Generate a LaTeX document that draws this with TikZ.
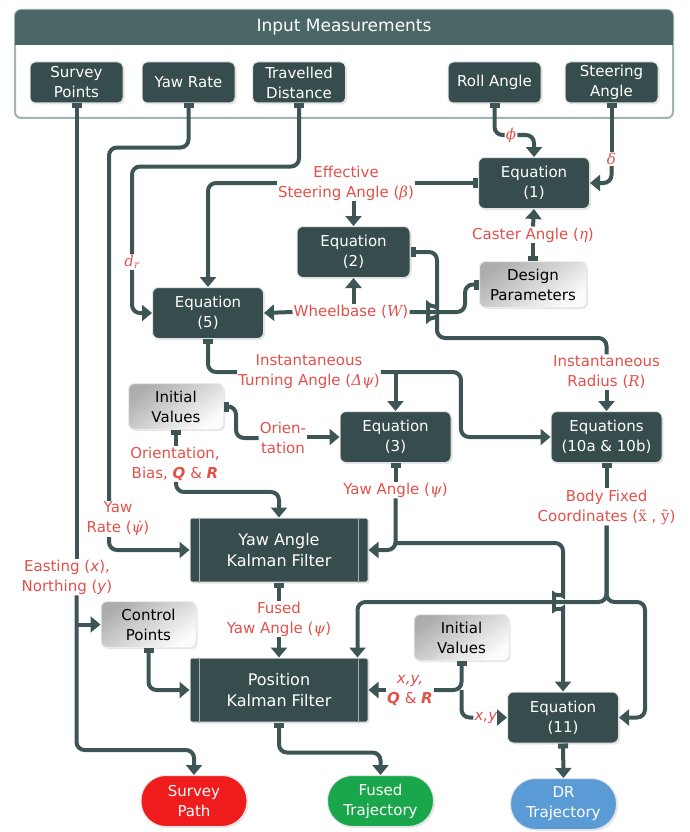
\documentclass[tikz,border=0pt]{standalone}
\usepackage{fontspec}
\setmainfont{DejaVu Sans}
\newfontfamily\serifsym{DejaVu Serif}
\newcommand{\symb}[1]{{\serifsym\itshape #1}}
\usetikzlibrary{arrows.meta,shadows}
\definecolor{boxdark}{HTML}{374C4C}
\definecolor{wirecol}{HTML}{3D5555}
\definecolor{headbar}{HTML}{4B6666}
\definecolor{framegray}{HTML}{A3B2B2}
\definecolor{labred}{HTML}{E2504A}
\definecolor{pathred}{HTML}{EE1C1C}
\definecolor{trajgreen}{HTML}{1AA64B}
\definecolor{trajblue}{HTML}{5B9BD5}

\begin{document}
\begin{tikzpicture}[
    x=1pt, y=-1pt,
    every node/.style={font=\fontsize{15}{20}\selectfont, align=center},
    >={Triangle[length=10pt,width=16pt]},
    sq/.tip={Square[length=5pt,width=10pt]},
    darkbox/.style={
      rectangle, rounded corners=6pt,
      fill=boxdark, text=white,
      draw=white!85!boxdark, line width=1pt,
      drop shadow={opacity=0.2, shadow xshift=1.5pt, shadow yshift=-1.5pt},
      minimum width=111pt, minimum height=51pt, inner sep=2pt
    },
    inbox/.style={darkbox, rounded corners=5pt, minimum width=93pt, minimum height=41pt},
    kfbox/.style={
      darkbox, rounded corners=2pt,
      font=\fontsize{16}{21}\selectfont,
      minimum width=178pt, minimum height=64pt
    },
    graybox/.style={
      rectangle, rounded corners=6pt,
      top color=black!32, bottom color=black!1, shading angle=35,
      draw=white!85!gray, line width=1pt,
      drop shadow={opacity=0.2, shadow xshift=1.5pt, shadow yshift=-1.5pt},
      minimum width=95pt, minimum height=46pt, inner sep=2pt
    },
    endbox/.style={
      rectangle, rounded corners=25pt, text=white,
      draw=white!80!gray, line width=1pt,
      drop shadow={opacity=0.2, shadow xshift=1.5pt, shadow yshift=-1.5pt},
      minimum width=106pt, minimum height=51pt
    },
    lbl/.style={text=labred, inner sep=1pt},
    flow/.style={draw=wirecol, line width=4pt, rounded corners=8pt}
  ]
  \useasboundingbox (0,0) rectangle (689,832);

  % input frame
  \draw[
    line width=2pt,
    color=framegray,
    fill=white,
    rounded corners=6pt
  ] (15,10) rectangle (673,118);
  \fill[headbar, rounded corners=6pt] (15,10) rectangle (673,45);
  \fill[headbar] (15,30) rectangle (673,45);
  \node[text=white, font=\fontsize{17}{20}\selectfont] (inhead) at (344,27) {Input Measurements};

  \node[inbox] (surv) at (76.5,82.5) {Survey\\Points};
  \node[inbox] (yawr) at (188.5,82.5) {Yaw Rate};
  \node[inbox] (trav) at (299,82.5) {Travelled\\Distance};
  \node[inbox] (roll) at (494.5,82.5) {Roll Angle};
  \node[inbox] (steer) at (611.5,82.5) {Steering\\Angle};

  % blocks
  \node[darkbox] (eq1) at (534,183) {Equation\\(1)};
  \node[darkbox, minimum width=113pt] (eq2) at (353.5,252) {Equation\\(2)};
  \node[graybox, minimum width=107pt] (dpar) at (533,284.5) {Design\\Parameters};
  \node[darkbox] (eq5) at (208,313) {Equation\\(5)};
  \node[graybox] (iv1) at (176,406.5) {Initial\\Values};
  \node[darkbox] (eq3) at (395.5,437) {Equation\\(3)};
  \node[darkbox] (eq10) at (606.5,437) {Equations\\(10a \& 10b)};
  \node[kfbox] (ykf) at (279,550) {Yaw Angle\\Kalman Filter};
  \node[graybox] (ctrl) at (148.5,624.5) {Control\\Points};
  \node[kfbox] (pkf) at (279,690) {Position\\Kalman Filter};
  \node[graybox] (iv2) at (461.5,637.5) {Initial\\Values};
  \node[darkbox] (eq11) at (563,717.5) {Equation\\(11)};
  \node[endbox, fill=pathred] (spath) at (194,801) {Survey\\Path};
  \node[endbox, fill=trajgreen] (ftraj) at (380.5,801) {Fused\\Trajectory};
  \node[endbox, fill=trajblue] (drtraj) at (563.5,804) {DR\\Trajectory};

  \foreach \kf in {ykf,pkf} {
    \draw[white!55!boxdark, line width=1.2pt]
      ([xshift=10pt]\kf.north west) -- ([xshift=10pt]\kf.south west)
      ([xshift=-10pt]\kf.north east) -- ([xshift=-10pt]\kf.south east);
  }

  % labels
  \node[lbl] (phi) at (511,135) {\symb{ϕ}};
  \node[lbl] (delta) at (611.5,159) {\symb{δ}};
  \node[lbl] (beta) at (346,183) {Effective\\Steering Angle (\symb{β})};
  \node[lbl] (eta) at (533,235) {Caster Angle (\symb{η})};
  \node[lbl] (dr) at (132,262) {\symb{d\textsubscript{r}}};
  \node[lbl] (wb) at (351,312) {Wheelbase (\symb{W})};
  \node[lbl] (dpsi) at (309,372) {Instantaneous\\Turning Angle (\symb{Δψ})};
  \node[lbl] (rad) at (606.5,372) {Instantaneous\\Radius (\symb{R})};
  \node[lbl] (orient) at (283,438) {Orien-\\tation};
  \node[lbl] (bias) at (175,464) {Orientation,\\Bias, \textbf{\textit{Q}} \& \textbf{\textit{R}}};
  \node[lbl] (psi) at (395.5,490) {Yaw Angle (\symb{ψ})};
  \node[lbl] (body) at (606.5,507) {Body Fixed\\Coordinates ({\serifsym x̃} , {\serifsym ỹ})};
  \node[lbl] (yrate) at (118,519) {Yaw\\Rate (\symb{ψ̇})};
  \node[lbl] (east) at (67,577) {Easting (\textit{x}),\\Northing (\textit{y})};
  \node[lbl] (fpsi) at (279,619) {Fused\\Yaw Angle (\symb{ψ})};
  \node[lbl] (xyqr) at (410,690) {\textit{x,y,}\\\textbf{\textit{Q}} \& \textbf{\textit{R}}};
  \node[lbl] (xy) at (486,717.5) {\textit{x,y}};

  % junctions
  \coordinate (sbranch) at (surv.south |- ctrl.west);
  \coordinate (sturn) at (76.5,750);
  \coordinate (dpsij) at (eq3.north |- dpsi.east);
  \coordinate (psij) at (395.5,543);
  \coordinate (bodyj) at (606.5,602);
  \coordinate (iv2j) at (461.5,690);

  % connectors
  \draw[flow, sq-] (surv.south) -- (surv.south |- east.north);
  \draw[flow, ->] (surv.south |- east.south) -- (sturn) -| (spath.north);
  \draw[flow, ->] (sbranch) -- (ctrl.west);
  \draw[flow, sq-] (yawr.south) -- ++(0,44) -| ([xshift=-9pt]yrate.north);
  \draw[flow, ->] ([xshift=-9pt]yrate.south) |- (ykf.west);
  \draw[flow, sq-] (trav.south) -- ++(0,63) -| (dr.north);
  \draw[flow, ->] (dr.south) |- (eq5.west);
  \draw[flow, sq-] (roll.south) |- (phi.west);
  \draw[flow, ->] (phi.east) -| (eq1.north);
  \draw[flow, sq-] (steer.south) -- (delta.north);
  \draw[flow, ->] (delta.south) |- (eq1.east);
  \draw[flow, sq-] (eq1.west) -- (beta.east |- eq1.west);
  \draw[flow, ->] (beta.west |- eq1.west) -| (eq5.north);
  \draw[flow, ->] (eq2.north |- beta.south) -- (eq2.north);
  \draw[flow, sq-] (dpar.north) -- (eta.south);
  \draw[flow, ->] (eta.north) -- (eq1.south);
  \draw[flow, sq-] (dpar.west) -- ++(-14,0) |- (wb.east);
  \draw[flow, ->] (wb.west) -- (eq5.east);
  \draw[flow, ->] (eq2.south |- wb.north) -- (eq2.south);
  \draw[flow, sq-] (eq2.east) -| (437,300)
    .. controls (437,306) and (428,306) .. (428,312)
    .. controls (428,318) and (437,318) .. (437,324)
    -- (437,338) -| (rad.north);
  \draw[flow, ->] (rad.south) -- (eq10.north);
  \draw[flow, sq-] (eq5.south) |- (dpsi.west);
  \draw[flow, ->] (dpsi.east) -- ++(80,0) |- (eq10.west);
  \draw[flow, ->] (dpsij) -- (eq3.north);
  \draw[flow, sq-] (iv1.east) -- ++(12,0) |- (orient.west);
  \draw[flow, ->] (orient.east |- eq3.west) -- (eq3.west);
  \draw[flow, sq-] (iv1.south) -- (iv1.south |- bias.north);
  \draw[flow, ->] (iv1.south |- bias.south) -- ++(0,10) -| (ykf.north);
  \draw[flow, sq-] (eq3.south) -- (psi.north);
  \draw[flow, ->] (psi.south) |- (ykf.east);
  \draw[flow, ->] (psij) -| (563,588)
    .. controls (563,594) and (554,596) .. (554,602)
    .. controls (554,608) and (563,610) .. (563,616)
    -- (eq11.north);
  \draw[flow, sq-] (eq10.south) -- (body.north);
  \draw[flow, ->] (body.south) -- (bodyj) -| ([xshift=-11pt]pkf.north east);
  \draw[flow, ->] (body.south) -- (bodyj) -- ++(38.5,0) |- (eq11.east);
  \draw[flow, sq-] (ykf.south) -- (fpsi.north);
  \draw[flow, ->] (fpsi.south) -- (pkf.north);
  \draw[flow, sq->] (ctrl.south) |- (pkf.west);
  \draw[flow, sq-] (iv2.south) -- (iv2j) -- (xyqr.east);
  \draw[flow, ->] (xyqr.west) -- (pkf.east);
  \draw[flow] (iv2j) |- (xy.west);
  \draw[flow, ->] (xy.east) -- (eq11.west);
  \draw[flow, sq->] (pkf.south) -- ++(0,30) -| (ftraj.north);
  \draw[flow, sq->] (eq11.south) -- (drtraj.north);
\end{tikzpicture}
\end{document}
